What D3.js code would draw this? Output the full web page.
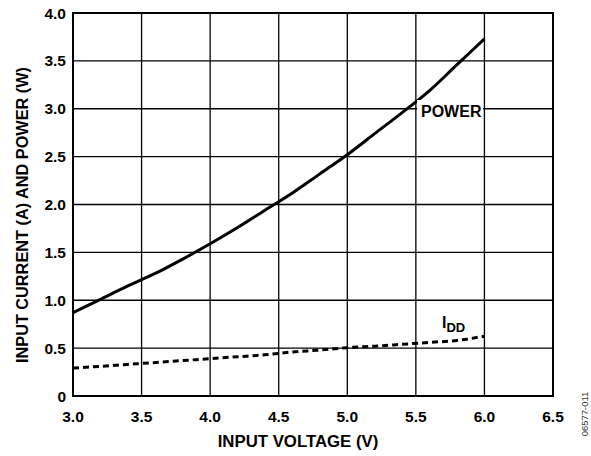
<!DOCTYPE html>
<html>
<head>
<meta charset="utf-8">
<script src="https://cdn.jsdelivr.net/npm/d3@7"></script>
<style>
  body { margin: 0; background: #fff; }
  svg text { font-family: "Liberation Sans", Arial, sans-serif; font-weight: bold; fill: #000; }
</style>
</head>
<body>
<svg id="chart" width="591" height="456"></svg>
<script>
// data
var voltage = [3.0, 3.2, 3.4, 3.6, 3.8, 4.0, 4.2, 4.4, 4.6, 4.8, 5.0, 5.2, 5.4, 5.6, 5.8, 6.0];
var power   = [0.87, 1.01, 1.15, 1.28, 1.43, 1.59, 1.76, 1.94, 2.12, 2.32, 2.52, 2.74, 2.96, 3.19, 3.46, 3.73];
var idd     = [0.29, 0.31, 0.33, 0.35, 0.37, 0.39, 0.41, 0.43, 0.46, 0.48, 0.505, 0.52, 0.54, 0.56, 0.58, 0.625];
var xTicks = [3.0, 3.5, 4.0, 4.5, 5.0, 5.5, 6.0, 6.5];
var yTicks = [0, 0.5, 1.0, 1.5, 2.0, 2.5, 3.0, 3.5, 4.0];

var pLeft = 73, pRight = 553, pTop = 13, pBottom = 396;
var svg = d3.select("#chart");

var x = d3.scaleLinear().domain([3.0, 6.5]).range([pLeft, pRight]);
var y = d3.scaleLinear().domain([0, 4.0]).range([pBottom, pTop]);

// grid
svg.append("g").selectAll("line").data(xTicks).enter().append("line")
  .attr("x1", function(d) { return x(d); }).attr("x2", function(d) { return x(d); })
  .attr("y1", pTop).attr("y2", pBottom)
  .attr("stroke", "#000").attr("stroke-width", 1.3);
svg.append("g").selectAll("line").data(yTicks).enter().append("line")
  .attr("x1", pLeft).attr("x2", pRight)
  .attr("y1", function(d) { return y(d); }).attr("y2", function(d) { return y(d); })
  .attr("stroke", "#000").attr("stroke-width", 1.3);

svg.append("rect")
  .attr("x", pLeft).attr("y", pTop).attr("width", pRight - pLeft).attr("height", pBottom - pTop)
  .attr("fill", "none").attr("stroke", "#000").attr("stroke-width", 2);

// tick labels
svg.append("g").selectAll("text").data(yTicks).enter().append("text")
  .attr("x", pLeft - 7).attr("y", function(d) { return y(d); })
  .attr("dy", "0.36em").attr("text-anchor", "end")
  .style("font-size", "15.5px")
  .text(function(d) { return d === 0 ? "0" : d3.format(".1f")(d); });
svg.append("g").selectAll("text").data(xTicks).enter().append("text")
  .attr("x", function(d) { return x(d); }).attr("y", 422)
  .attr("text-anchor", "middle")
  .style("font-size", "15.5px")
  .text(function(d) { return d3.format(".1f")(d); });

// curves
var line = d3.line()
  .x(function(d) { return x(d[0]); })
  .y(function(d) { return y(d[1]); })
  .curve(d3.curveMonotoneX);

svg.append("path")
  .datum(d3.zip(voltage, power))
  .attr("d", line)
  .attr("fill", "none").attr("stroke", "#000").attr("stroke-width", 3);

svg.append("path")
  .datum(d3.zip(voltage, idd))
  .attr("d", line)
  .attr("fill", "none").attr("stroke", "#000").attr("stroke-width", 3)
  .attr("stroke-dasharray", "6,4");

// labels
svg.append("rect")
  .attr("x", 417).attr("y", 100).attr("width", 66).attr("height", 22)
  .attr("fill", "#fff");
svg.append("text")
  .attr("x", 421).attr("y", 117)
  .style("font-size", "16px")
  .text("POWER");

var iddLabel = svg.append("text")
  .attr("x", 442).attr("y", 328)
  .style("font-size", "16px");
iddLabel.append("tspan").text("I");
iddLabel.append("tspan").attr("dy", 4).style("font-size", "13px").text("DD");

// axis titles
svg.append("text")
  .attr("x", 298).attr("y", 447)
  .attr("text-anchor", "middle")
  .style("font-size", "16.8px")
  .text("INPUT VOLTAGE (V)");

svg.append("text")
  .attr("transform", "translate(28,215) rotate(-90)")
  .attr("text-anchor", "middle")
  .style("font-size", "16.3px")
  .text("INPUT CURRENT (A) AND POWER (W)");

svg.append("text")
  .attr("transform", "translate(588,414) rotate(-90)")
  .attr("text-anchor", "middle")
  .style("font-size", "9.5px").style("font-weight", "normal").style("fill", "#333")
  .text("06577-011");
</script>
</body>
</html>
